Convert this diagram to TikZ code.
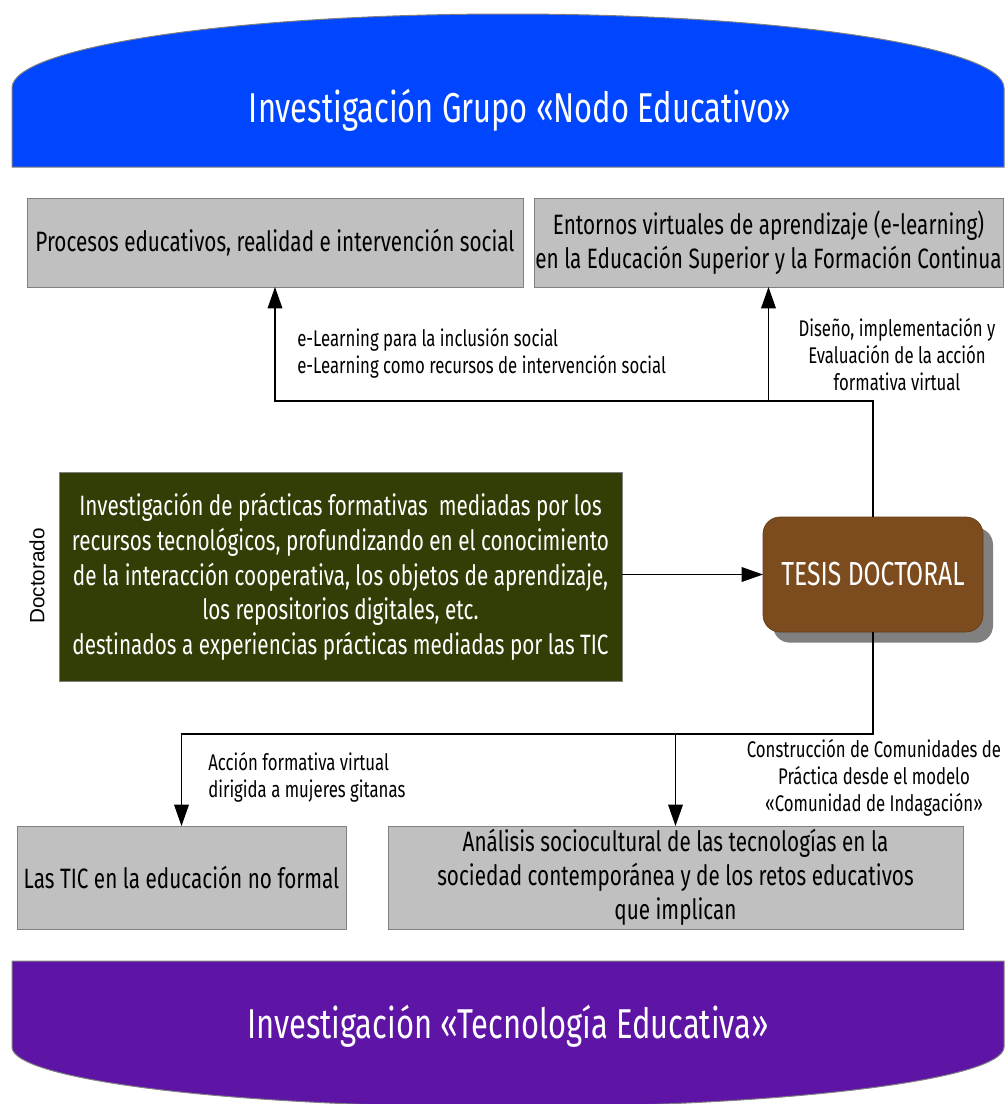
\documentclass[tikz,border=0pt]{standalone}
\usepackage{fontspec}
\usetikzlibrary{arrows.meta}
\newfontfamily\condfont[FakeStretch=0.74]{Fira Sans}
\newfontfamily\plainfont{Liberation Sans}
\definecolor{topblue}{RGB}{0,70,255}
\definecolor{botpurple}{RGB}{94,20,164}
\definecolor{boxgray}{RGB}{192,192,192}
\definecolor{edgegray}{RGB}{128,128,128}
\definecolor{olivegreen}{RGB}{50,62,6}
\definecolor{tesisbrown}{RGB}{124,76,30}
\begin{document}
\begin{tikzpicture}[x=0.75pt,y=-0.75pt,
  banner/.style={draw=edgegray, line width=0.75pt},
  bannertext/.style={text=white, inner sep=0pt, anchor=base, font=\condfont\fontsize{31.3}{38}\selectfont},
  topicbox/.style={draw=edgegray, line width=0.75pt, fill=boxgray, inner sep=0pt, outer sep=0pt,
    align=center, font=\condfont\fontsize{21}{25.5}\selectfont},
  note/.style={inner sep=0pt, font=\condfont\fontsize{17}{20.25}\selectfont},
  link/.style={line width=1pt, -{Triangle[length=16pt,width=11pt]}}]
\useasboundingbox (0,0) rectangle (1005,1104);

% upper banner: dome on top, flat base
\path[banner, fill=topblue] (12,167) -- (12,88)
  .. controls (12,47) and (234,14) .. (508,14)
  .. controls (782,14) and (1004,47) .. (1004,88) -- (1004,167) -- cycle;
\node[bannertext] (toptitle) at (520,122) {Investigación Grupo «Nodo Educativo»};

% lower banner: flat top, rounded bottom
\path[banner, fill=botpurple] (12,961) -- (1004,961) -- (1004,1047)
  .. controls (1004,1080) and (782,1107) .. (508,1107)
  .. controls (234,1107) and (12,1080) .. (12,1047) -- cycle;
\node[bannertext] (bottitle) at (508,1038) {Investigación «Tecnología Educativa»};

% research lines
\node[topicbox, minimum width=372pt, minimum height=66.75pt] (b1) at (275,242.5)
  {Procesos educativos, realidad e intervención social};
\node[topicbox, minimum width=351.75pt, minimum height=66.75pt] (b2) at (768.5,242.5)
  {Entornos virtuales de aprendizaje (e-learning)\\en la Educación Superior y la Formación Continua};
\node[topicbox, minimum width=246.75pt, minimum height=77.25pt] (b3) at (181.5,877.5)
  {Las TIC en la educación no formal};
\node[topicbox, minimum width=431.25pt, minimum height=77.25pt] (b4) at (675.5,877.5)
  {Análisis sociocultural de las tecnologías en la\\sociedad contemporánea y de los retos educativos\\que implican};

% doctoral programme
\node[topicbox, fill=olivegreen, text=white, minimum width=422.25pt, minimum height=156.75pt,
  font=\condfont\fontsize{21}{26}\selectfont] (doc) at (340.5,577)
  {Investigación de prácticas formativas\ \ mediadas por los\\
   recursos tecnológicos, profundizando en el conocimiento\\
   de la interacción cooperativa, los objetos de aprendizaje,\\
   los repositorios digitales, etc.\\
   destinados a experiencias prácticas mediadas por las TIC};
\node[rotate=90, inner sep=0pt, font=\plainfont\fontsize{15.5}{18}\selectfont] (doclabel) at (37,576) {Doctorado};

% thesis
\node[draw=tesisbrown!80!black, line width=0.5pt, fill=tesisbrown, rounded corners=12.75pt,
  minimum width=165pt, minimum height=86.25pt, inner sep=0pt, outer sep=0pt, text=white,
  font=\condfont\fontsize{25}{30}\selectfont,
  preaction={fill=edgegray, transform canvas={xshift=7.5pt, yshift=-8pt}}] (tesis) at (873,574.5)
  {TESIS DOCTORAL};

% junctions of the connectors
\coordinate (up) at (873,401);
\coordinate (down) at (873,734);

\draw[link] (doc.east |- tesis.west) -- (tesis.west);
\draw[link] (tesis.north) -- (up) -| (b1.south);
\draw[link] (b2.south |- up) -- (b2.south);
\draw[link] (tesis.south) -- (down) -| (b3.north);
\draw[link] (b4.north |- down) -- (b4.north);

% connector labels
\node[note, anchor=west, align=left] (n1) at (297,353)
  {e-Learning para la inclusión social\\e-Learning como recursos de intervención social};
\node[note, align=center] (n2) at (897,355)
  {Diseño, implementación y\\Evaluación de la acción\\formativa virtual};
\node[note, anchor=west, align=left] (n3) at (208,777)
  {Acción formativa virtual\\dirigida a mujeres gitanas};
\node[note, align=center] (n4) at (874,778)
  {Construcción de Comunidades de\\Práctica desde el modelo\\«Comunidad de Indagación»};
\end{tikzpicture}
\end{document}
